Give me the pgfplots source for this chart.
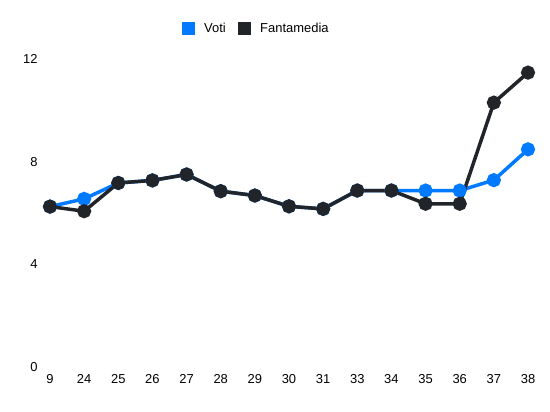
\documentclass[border=0pt]{standalone}
\usepackage{pgfplots}
\pgfplotsset{compat=1.18}
\usepackage{fontspec}
\setmainfont{Liberation Sans}
\definecolor{voti}{HTML}{007BFF}
\definecolor{fanta}{HTML}{212529}
\begin{document}
\begin{tikzpicture}
\path (-50bp,-45bp) rectangle (500bp,367bp);
\begin{axis}[
  at={(0,0)}, anchor=origin,
  scale only axis, width=478bp, height=308bp,
  xmin=0, xmax=14, ymin=0, ymax=12,
  axis line style={draw=none},
  tick style={draw=none},
  xtick={0,...,14},
  xticklabels={9,24,25,26,27,28,29,30,31,33,34,35,36,37,38},
  ytick={0,4,8,12},
  /pgf/number format/assume math mode=true,
  ticklabel style={font=\fontsize{13}{15}\selectfont, text=black},
  xticklabel style={yshift=-4bp},
  yticklabel style={xshift=-9bp},
  clip=false,
]
\addplot[voti, line width=3.5bp, mark=*, mark size=5.3bp, mark options={fill=voti, draw=none}]
coordinates {(0,6.25)(1,6.55)(2,7.17)(3,7.27)(4,7.5)(5,6.85)(6,6.68)(7,6.26)(8,6.16)(9,6.875)(10,6.875)(11,6.875)(12,6.875)(13,7.28)(14,8.48)};
\addplot[fanta, line width=3.5bp, mark=*, mark size=5.3bp, mark options={fill=fanta, draw=none}]
coordinates {(0,6.25)(1,6.07)(2,7.17)(3,7.27)(4,7.5)(5,6.85)(6,6.68)(7,6.26)(8,6.16)(9,6.875)(10,6.875)(11,6.36)(12,6.36)(13,10.3)(14,11.47)};
\end{axis}
\fill[voti] (132bp,332bp) rectangle (145bp,345bp);
\node[anchor=base west, font=\fontsize{13}{15}\selectfont, inner sep=0pt] at (154bp,334bp) {Voti};
\fill[fanta] (188bp,332bp) rectangle (201bp,345bp);
\node[anchor=base west, font=\fontsize{13}{15}\selectfont, inner sep=0pt] at (210bp,334bp) {Fantamedia};
\end{tikzpicture}
\end{document}
